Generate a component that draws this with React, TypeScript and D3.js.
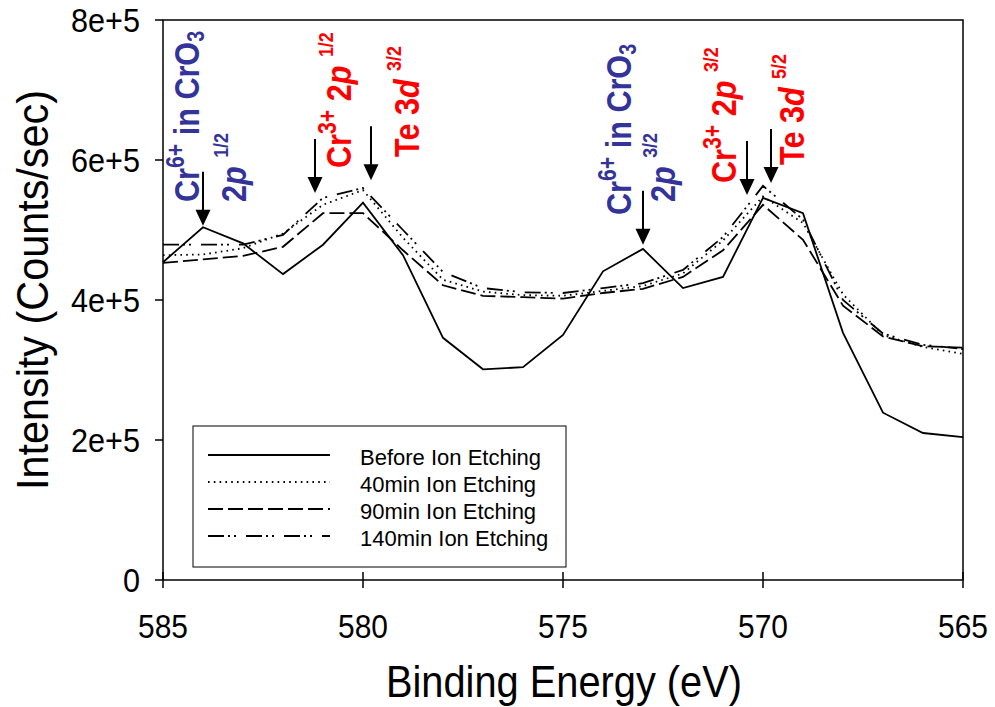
import React from "react";
import * as d3 from "d3";

// Cr 2p region XPS spectra at successive ion-etching times
const bindingEnergy = [585, 584, 583, 582, 581, 580, 579, 578, 577, 576, 575, 574, 573, 572, 571, 570, 569, 568, 567, 566, 565];
const beforeEtching = [454000, 504000, 481000, 437000, 479000, 539000, 464000, 346000, 301000, 304000, 350000, 441000, 473000, 417000, 433000, 546000, 524000, 353000, 239000, 210000, 204000];
const etch40min = [464000, 465000, 474000, 495000, 536000, 557000, 489000, 429000, 412000, 407000, 406000, 413000, 420000, 438000, 485000, 548000, 510000, 408000, 350000, 333000, 323000];
const etch90min = [453000, 458000, 463000, 476000, 524000, 524000, 471000, 421000, 406000, 404000, 402000, 410000, 416000, 433000, 471000, 536000, 486000, 392000, 348000, 334000, 332000];
const etch140min = [479000, 479000, 479000, 493000, 546000, 560000, 500000, 440000, 417000, 411000, 410000, 417000, 424000, 443000, 490000, 563000, 515000, 400000, 352000, 336000, 330000];
const seriesNames = ["Before Ion Etching", "40min Ion Etching", "90min Ion Etching", "140min Ion Etching"];

const xTicks = [585, 580, 575, 570, 565];
const yTicks = [0, 200000, 400000, 600000, 800000];
const yTickLabels = ["0", "2e+5", "4e+5", "6e+5", "8e+5"];

// peak markers: arrow energy and the intensity the arrow points at
const peakEnergies = [584, 581.2, 579.8, 573, 570.4, 569.8];
const peakArrowTips = [506000, 553000, 571000, 479000, 550000, 567000];

type Part = [string, "n" | "i" | "sup" | "sub" | "frac"];
const labelParts: Part[][] = [
  [["Cr", "n"], ["6+", "sup"], [" in CrO", "n"], ["3", "sub"]],
  [["2", "n"], ["p", "i"], [" ", "n"], ["1/2", "frac"]],
  [["Cr", "n"], ["3+", "sup"], [" 2", "n"], ["p", "i"], [" ", "n"], ["1/2", "frac"]],
  [["Te 3", "n"], ["d", "i"], [" ", "n"], ["3/2", "frac"]],
  [["Cr", "n"], ["6+", "sup"], [" in CrO", "n"], ["3", "sub"]],
  [["2", "n"], ["p", "i"], [" ", "n"], ["3/2", "frac"]],
  [["Cr", "n"], ["3+", "sup"], [" 2", "n"], ["p", "i"], [" ", "n"], ["3/2", "frac"]],
  [["Te 3", "n"], ["d", "i"], [" ", "n"], ["5/2", "frac"]],
];

const BLUE = "#333399";
const RED = "#ff0000";
const FONT = "Arial, 'Liberation Sans', Helvetica, sans-serif";

const W = 995;
const H = 707;
const M = { left: 163, right: 963, top: 20, bottom: 580 };

const x = d3.scaleLinear().domain([585, 565]).range([M.left, M.right]);
const y = d3.scaleLinear().domain([0, 800000]).range([M.bottom, M.top]);

const seriesValues = [beforeEtching, etch40min, etch90min, etch140min];
const dashes = [undefined, "1.6,4.2", "15,5", "16,4,2,4,2,10"];

// label anchor offsets relative to each arrow (px): column / bottom edge
const labelLayout = [
  { arrow: 0, dx: -4, bottom: 202, color: BLUE },
  { arrow: 0, dx: 43, bottom: 202, color: BLUE },
  { arrow: 1, dx: 36, bottom: 168, color: RED },
  { arrow: 2, dx: 48, bottom: 157, color: RED },
  { arrow: 3, dx: -12, bottom: 215, color: BLUE },
  { arrow: 3, dx: 32, bottom: 202, color: BLUE },
  { arrow: 4, dx: -11, bottom: 183, color: RED },
  { arrow: 5, dx: 33, bottom: 165, color: RED },
];

function RotatedLabel({ px, py, color, parts }: { px: number; py: number; color: string; parts: Part[] }) {
  let shift = 0;
  const spans = parts.map(([t, kind], i) => {
    let target = 0;
    let size = 36;
    let style: string | undefined;
    if (kind === "sup") { target = -15; size = 25; }
    if (kind === "sub") { target = 5; size = 23; }
    if (kind === "frac") { target = -18; size = 21; }
    if (kind === "i") style = "italic";
    const dy = target - shift;
    shift = target;
    return (
      <tspan key={i} dy={dy} fontSize={size} fontStyle={style}>
        {t}
      </tspan>
    );
  });
  return (
    <text
      transform={`translate(${px},${py}) rotate(-90) scale(0.85,1)`}
      fill={color}
      fontWeight="bold"
      fontFamily={FONT}
      fontSize={36}
      style={{ whiteSpace: "pre" }}
    >
      {spans}
    </text>
  );
}

export default function App() {
  const line = d3
    .line<number>()
    .x((_, i) => x(bindingEnergy[i]))
    .y((v) => y(v));

  const legendX = 193;
  const legendY = 426;
  const rowY = [455, 482, 509, 536];

  return (
    <svg
      width={W}
      height={H}
      style={{ position: "absolute", left: 0, top: 0, background: "#fff" }}
      fontFamily={FONT}
    >
      <rect x={0} y={0} width={W} height={H} fill="#fff" />

      {/* data */}
      <g fill="none" stroke="#000" strokeWidth={1.8} strokeLinejoin="miter">
        {seriesValues.map((vals, i) => (
          <path key={i} d={line(vals) || ""} strokeDasharray={dashes[i]} />
        ))}
      </g>

      {/* frame */}
      <rect
        x={M.left}
        y={M.top}
        width={M.right - M.left}
        height={M.bottom - M.top}
        fill="none"
        stroke="#000"
        strokeWidth={1.5}
      />

      {/* y axis */}
      {yTicks.map((t, i) => (
        <g key={t}>
          <line x1={M.left - 8} x2={M.left} y1={y(t)} y2={y(t)} stroke="#000" strokeWidth={1.5} />
          <text
            x={140}
            y={y(t)}
            dy="0.36em"
            textAnchor="end"
            fontSize={34}
            transform={`translate(140,0) scale(0.9,1) translate(-140,0)`}
          >
            {yTickLabels[i]}
          </text>
        </g>
      ))}

      {/* x axis */}
      {xTicks.map((t) => (
        <g key={t}>
          <line x1={x(t)} x2={x(t)} y1={M.bottom - 8} y2={M.bottom + 8} stroke="#000" strokeWidth={1.5} />
          <text
            x={x(t)}
            y={638}
            textAnchor="middle"
            fontSize={34}
            transform={`translate(${x(t)},0) scale(0.88,1) translate(${-x(t)},0)`}
          >
            {t}
          </text>
        </g>
      ))}

      <text x={564} y={697} textAnchor="middle" fontSize={45} textLength={356} lengthAdjust="spacingAndGlyphs">
        Binding Energy (eV)
      </text>
      <text
        transform="translate(48,290) rotate(-90)"
        textAnchor="middle"
        fontSize={45}
        textLength={400}
        lengthAdjust="spacingAndGlyphs"
      >
        Intensity (Counts/sec)
      </text>

      {/* peak arrows */}
      {peakEnergies.map((e, i) => {
        const ax = x(e);
        const tip = y(peakArrowTips[i]);
        return (
          <g key={i}>
            <line x1={ax} x2={ax} y1={tip - 54} y2={tip - 12} stroke="#000" strokeWidth={2} />
            <polygon points={`${ax - 7.5},${tip - 16} ${ax + 7.5},${tip - 16} ${ax},${tip}`} fill="#000" />
          </g>
        );
      })}

      {/* peak labels */}
      {labelLayout.map((l, i) => (
        <RotatedLabel
          key={i}
          px={x(peakEnergies[l.arrow]) + l.dx}
          py={l.bottom}
          color={l.color}
          parts={labelParts[i]}
        />
      ))}

      {/* legend */}
      <g>
        <rect x={legendX} y={legendY} width={373} height={141} fill="#fff" stroke="#000" strokeWidth={1} />
        {seriesNames.map((name, i) => (
          <g key={name}>
            <line
              x1={208}
              x2={330}
              y1={rowY[i]}
              y2={rowY[i]}
              stroke="#000"
              strokeWidth={1.8}
              strokeDasharray={dashes[i]}
            />
            <text x={360} y={rowY[i] + 2} dy="0.35em" fontSize={22}>
              {name}
            </text>
          </g>
        ))}
      </g>
    </svg>
  );
}
